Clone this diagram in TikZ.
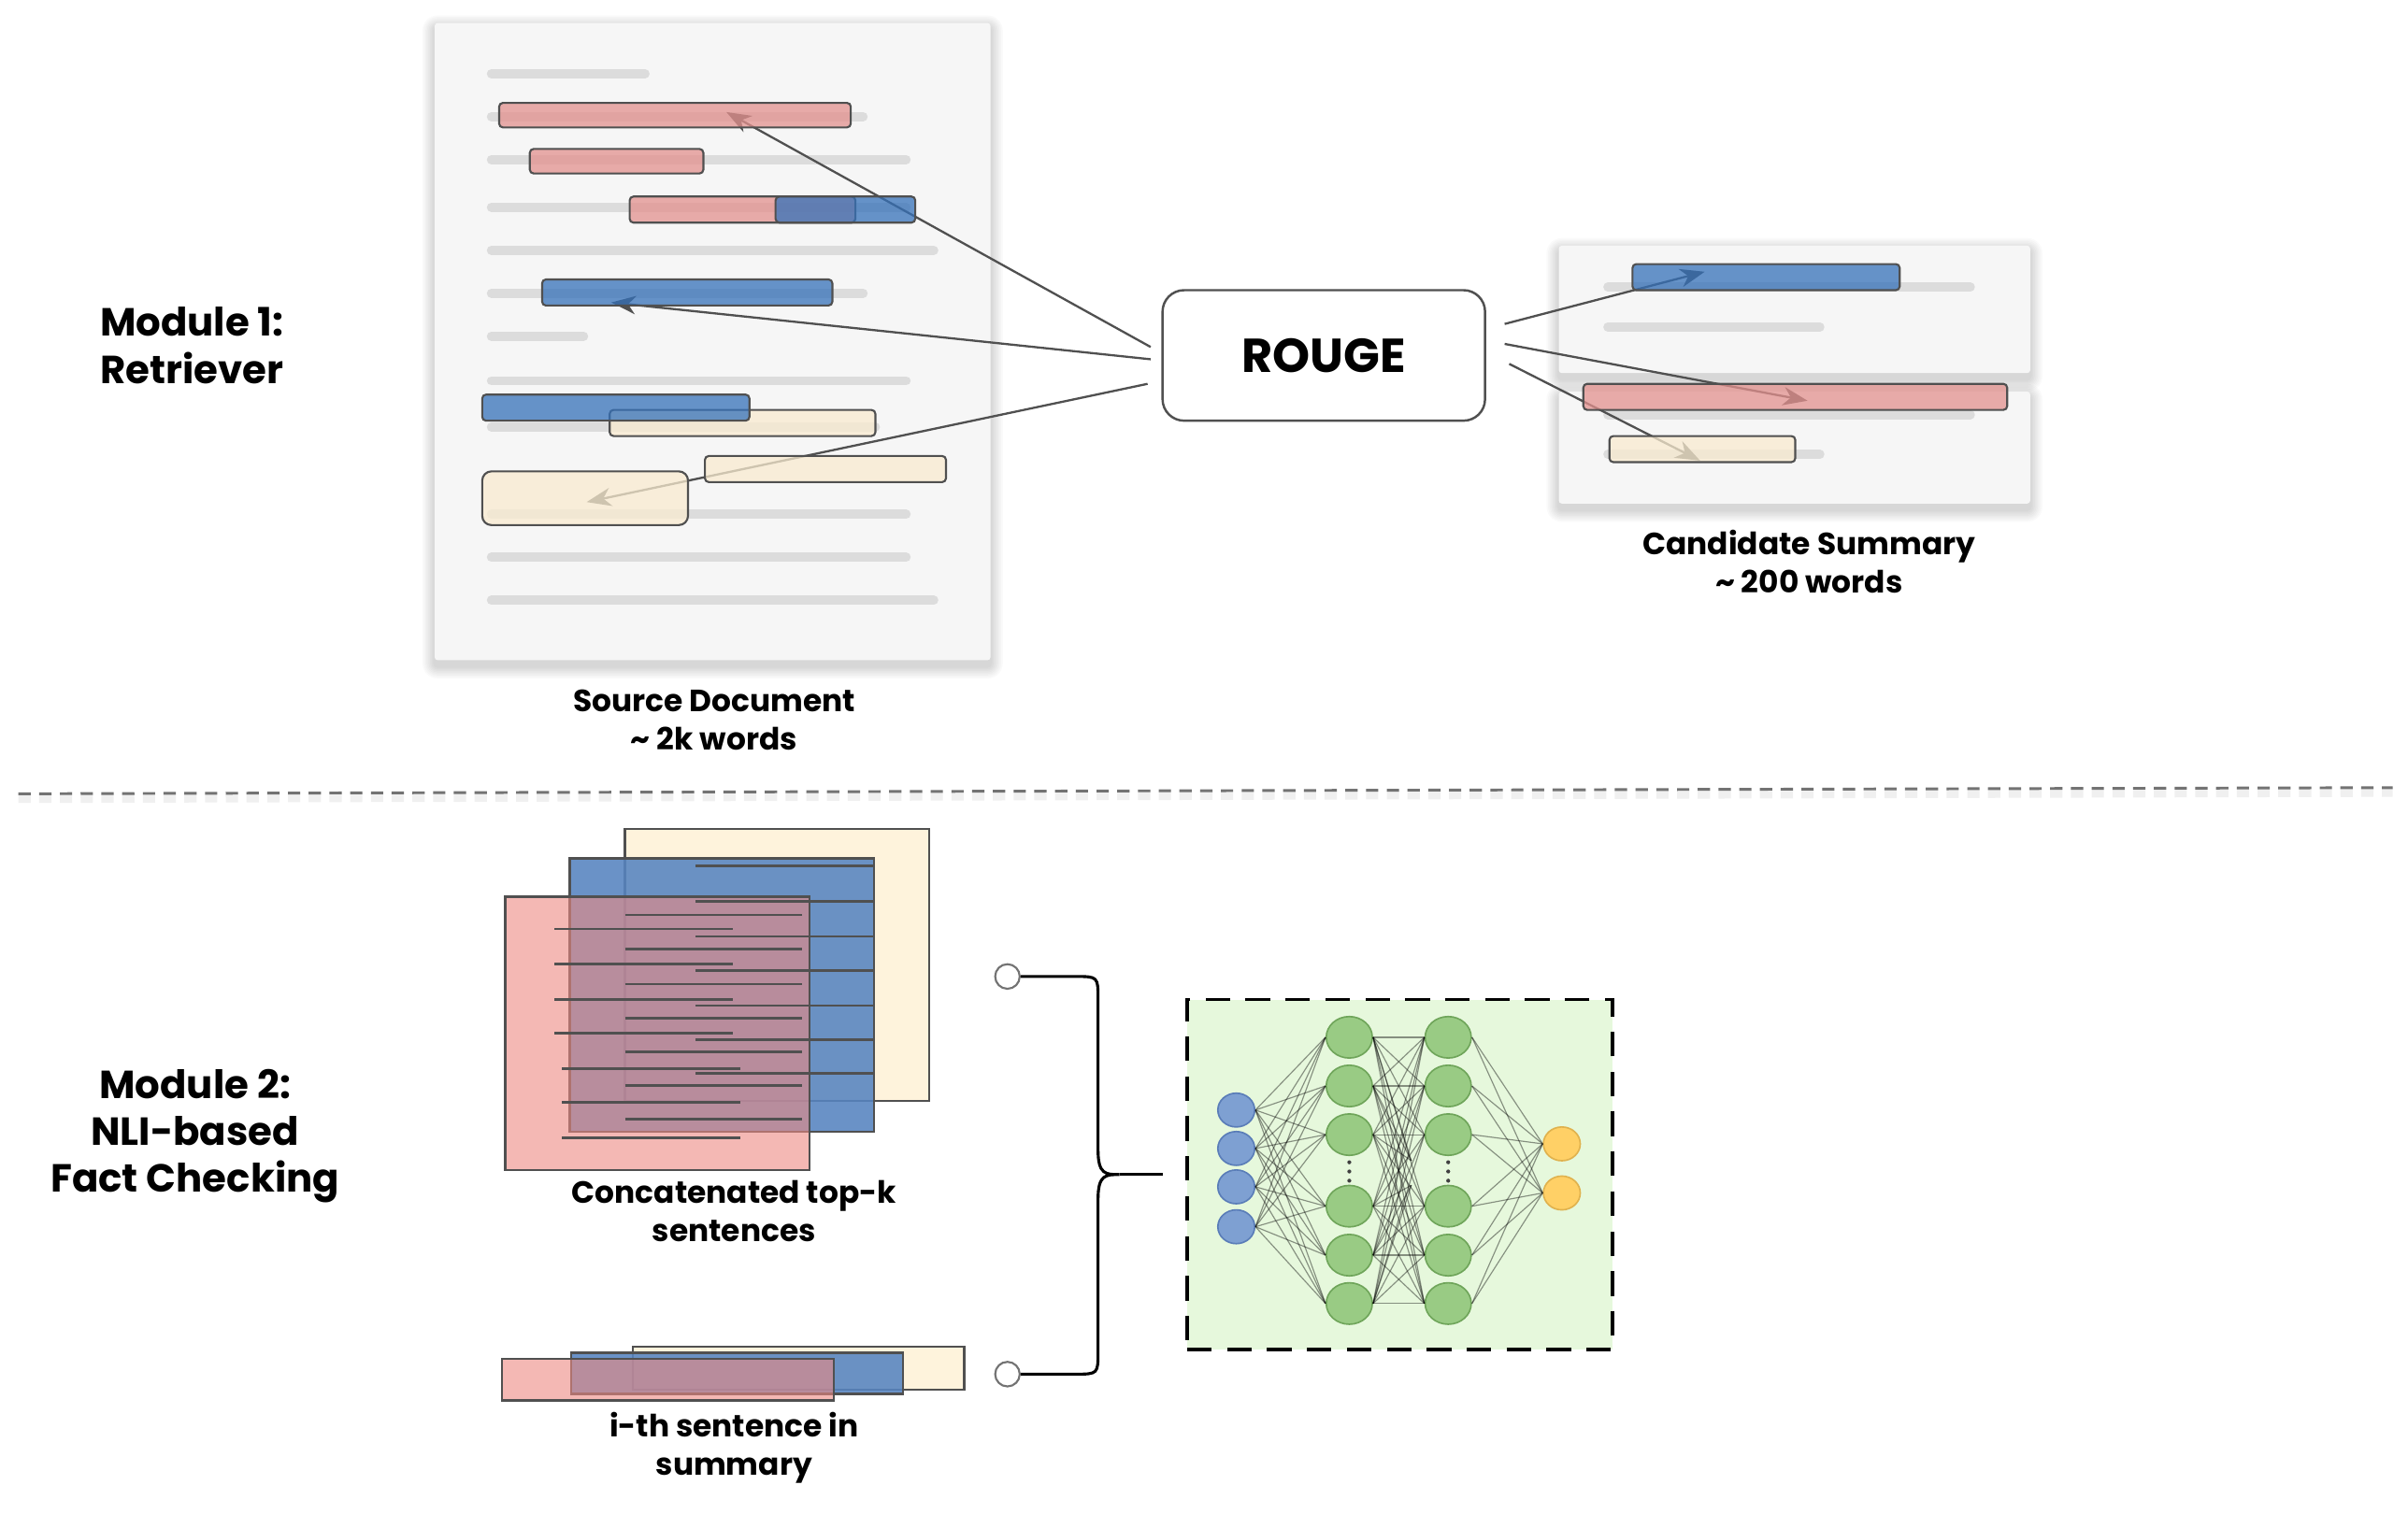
\documentclass[tikz,border=0pt]{standalone}
\usepackage{fontspec}
\setmainfont{Poppins}
\usetikzlibrary{arrows.meta,calc,shapes.geometric}
\definecolor{pagebg}{HTML}{F6F6F6}
\definecolor{txtline}{HTML}{DCDCDC}
\definecolor{cred}{RGB}{227,145,142}
\definecolor{cblue}{RGB}{53,113,185}
\definecolor{cbeige}{RGB}{249,235,208}
\definecolor{edge}{HTML}{505050}
\definecolor{kbeige}{HTML}{FEF3DC}
\definecolor{kblue}{RGB}{86,132,192}
\definecolor{kred}{RGB}{237,138,130}
\definecolor{nnbg}{HTML}{E6F8DC}
\definecolor{nblue}{HTML}{7EA0D2}
\definecolor{nbluedk}{HTML}{5A7DB8}
\definecolor{ngreen}{HTML}{99CB84}
\definecolor{ngreendk}{HTML}{6FA55A}
\definecolor{norange}{HTML}{FFD066}
\definecolor{norangedk}{HTML}{E0B24E}
\newcommand\softshadow[4]{%
  \foreach \i in {1,...,8}{%
    \fill[black,opacity=0.018,rounded corners=2+\i] ({#1-\i},{#2-\i+3}) rectangle ({#3+\i},{#4+\i+4});
  }%
}
\tikzset{
  page/.style={fill=pagebg, draw=none, inner sep=0pt, outer sep=0pt, rounded corners=2pt},
  tline/.style={txtline, line width=6pt, line cap=round},
  bar/.style={draw=edge, line width=1.3pt, fill opacity=0.75, inner sep=0pt, outer sep=0pt, rounded corners=2.5pt},
  arr/.style={draw=edge, line width=1.4pt, -{Stealth[length=16pt,width=12pt,inset=5pt]}},
  lab/.style={font=\bfseries\fontsize{20}{25}\selectfont, align=center, inner sep=0pt},
  modlab/.style={font=\bfseries\fontsize{25.5}{30.5}\selectfont, align=center, inner sep=0pt},
  stk/.style={draw=edge, line width=1.5pt, inner sep=0pt, outer sep=0pt},
  sline/.style={draw=edge, line width=1.6pt},
  inp/.style={ellipse, fill=nblue, draw=nbluedk, line width=1pt, minimum width=24pt, minimum height=22pt, inner sep=0pt},
  hid/.style={ellipse, fill=ngreen, draw=ngreendk, line width=1pt, minimum width=30pt, minimum height=27pt, inner sep=0pt},
  outn/.style={ellipse, fill=norange, draw=norangedk, line width=1pt, minimum width=24pt, minimum height=22pt, inner sep=0pt},
  nnedge/.style={draw=black, draw opacity=0.42, line width=0.7pt},
  port/.style={circle, draw=black!55, fill=white, line width=1.3pt, minimum size=16pt, inner sep=0pt},
}
\begin{document}
\begin{tikzpicture}[x=1pt,y=-1pt]
\useasboundingbox (0,0) rectangle (1568,995);
\fill[white] (0,0) rectangle (1568,995);

% ---------- Module labels ----------
\node[modlab] (mod1) at (125,225) {Module 1:\\Retriever};
\node[modlab] (mod2) at (127,740) {Module 2:\\NLI-based\\Fact Checking};

% ---------- Source document ----------
\softshadow{283}{15}{645}{430}
\node[page, minimum width=362pt, minimum height=415pt] (src) at (464,222.5) {};
\draw[tline] (320,48) -- (420,48);
\draw[tline] (320,76) -- (562,76);
\draw[tline] (320,104) -- (590,104);
\draw[tline] (320,135) -- (590,135);
\draw[tline] (320,163) -- (608,163);
\draw[tline] (320,191) -- (562,191);
\draw[tline] (320,219) -- (380,219);
\draw[tline] (320,248) -- (590,248);
\draw[tline] (320,278) -- (570,278);
\draw[tline] (320,335) -- (590,335);
\draw[tline] (320,363) -- (590,363);
\draw[tline] (320,391) -- (608,391);
\node[lab] (srclab) at (465,469) {Source Document\\\textasciitilde{} 2k words};

% ---------- Candidate summary ----------
\softshadow{1015}{160}{1322}{243}
\node[page, minimum width=307pt, minimum height=83pt] (sum1) at (1168.5,201.5) {};
\softshadow{1015}{255}{1322}{328}
\node[page, minimum width=307pt, minimum height=73pt] (sum2) at (1168.5,291.5) {};
\draw[tline] (1047,187) -- (1283,187);
\draw[tline] (1047,213) -- (1185,213);
\draw[tline] (1047,270) -- (1283,270);
\draw[tline] (1047,296) -- (1185,296);
\node[lab] (sumlab) at (1178,366) {Candidate Summary\\\textasciitilde{} 200 words};

% ---------- ROUGE ----------
\node[draw=edge, line width=1.5pt, fill=white, rounded corners=14pt, minimum width=210pt, minimum height=85pt, inner sep=0pt,
      font=\bfseries\fontsize{31}{31}\selectfont] (rouge) at (862,231.5) {ROUGE};

% arrow endpoints
\coordinate (a1s) at ($(rouge.west)+(-7,-5.5)$);
\coordinate (a2s) at ($(rouge.west)+(-7,2.5)$);
\coordinate (a3s) at ($(rouge.west)+(-9,18.5)$);
\coordinate (a1t) at (473,73);
\coordinate (a2t) at (398,197);
\coordinate (a3t) at (382,327);
\coordinate (b1s) at ($(rouge.east)+(12,-20.5)$);
\coordinate (b2s) at ($(rouge.east)+(12,-7.5)$);
\coordinate (b3s) at ($(rouge.east)+(15,5.5)$);
\coordinate (b1t) at (1110,177);
\coordinate (b2t) at (1177,261);
\coordinate (b3t) at (1107,300);

\draw[arr] (a1s) -- (a1t);
\draw[arr] (a2s) -- (a2t);
\draw[arr] (a3s) -- (a3t);
\draw[arr] (b1s) -- (b1t);
\draw[arr] (b2s) -- (b2t);
\draw[arr] (b3s) -- (b3t);

% source bars
\node[bar, fill=cred, minimum width=229pt, minimum height=16pt] (r1) at (439.5,75) {};
\node[bar, fill=cred, minimum width=113pt, minimum height=16pt] (r2) at (401.5,105) {};
\node[bar, fill=cred, minimum width=147pt, minimum height=17pt] (r3) at (483.5,136.5) {};
\node[bar, fill=cblue, minimum width=91pt, minimum height=17pt] (b3) at (550.5,136.5) {};
\node[bar, fill=cblue, minimum width=189pt, minimum height=17pt] (b4) at (447.5,190.5) {};
\node[bar, fill=cbeige, minimum width=173pt, minimum height=17pt] (y1) at (483.5,275.5) {};
\node[bar, fill=cblue, minimum width=174pt, minimum height=17pt] (b5) at (401,265.5) {};
\node[bar, fill=cbeige, minimum width=157pt, minimum height=17pt] (y2) at (537.5,305.5) {};
\node[bar, fill=cbeige, rounded corners=6pt, minimum width=134pt, minimum height=35pt] (y3) at (381,324.5) {};

% summary bars
\node[bar, fill=cblue, minimum width=174pt, minimum height=17pt] (sb) at (1150,180.5) {};
\node[bar, fill=cred, minimum width=276pt, minimum height=17pt] (sr) at (1169,258.5) {};
\node[bar, fill=cbeige, minimum width=121pt, minimum height=17pt] (sy) at (1108.5,292.5) {};

% ---------- divider ----------
\coordinate (dv1) at (12,517);
\coordinate (dv2) at (1558,513);
\draw[black, opacity=0.06, line width=6pt, dash pattern=on 8pt off 5.5pt] ($(dv1)+(0,3)$) -- ($(dv2)+(0,3)$);
\draw[black!55, line width=1.8pt, dash pattern=on 8pt off 5.5pt] (dv1) -- (dv2);

% ---------- Module 2: stacked sentences ----------
\node[stk, fill=kbeige, minimum width=198pt, minimum height=177pt] (kB) at (506,628.5) {};
\node[stk, fill=kblue, fill opacity=0.88, minimum width=198pt, minimum height=178pt] (kU) at (470,648) {};
\node[stk, fill=kred, fill opacity=0.6, minimum width=198pt, minimum height=178pt] (kR) at (428,673) {};
\foreach \y in {564,587,610,632,655,677,699} \draw[sline] (453,\y) -- (569,\y);
\foreach \y in {596,618,641,663,685,707,729} \draw[sline] (407,\y) -- (522,\y);
\foreach \y in {605,628,651,673} \draw[sline] (361,\y) -- (477,\y);
\foreach \y in {696,718,741} \draw[sline] (366,\y) -- (482,\y);
\node[lab] (catlab) at (478,789) {Concatenated top-k\\sentences};

\node[stk, fill=kbeige, minimum width=216pt, minimum height=28pt] (iB) at (520,891) {};
\node[stk, fill=kblue, fill opacity=0.88, minimum width=216pt, minimum height=27pt] (iU) at (480,894.5) {};
\node[stk, fill=kred, fill opacity=0.6, minimum width=216pt, minimum height=27pt] (iR) at (435,898.5) {};
\node[lab] (ilab) at (478,943) {i-th sentence in\\summary};

% ---------- brace ----------
\node[port] (c1) at (656,636) {};
\node[port] (c2) at (656,895) {};
\coordinate (cusp) at (729,765);
\coordinate (brtip) at (757,765);
\draw[black, line width=1.9pt]
  (c1.east) -- (700,636) .. controls (715,636) .. (715,651) -- (715,749)
  .. controls (715,765) and (720,765) .. (cusp)
  .. controls (720,765) and (715,765) .. (715,781) -- (715,880)
  .. controls (715,895) .. (700,895) -- (c2.east);
\draw[black, line width=1.9pt] (cusp) -- (brtip);

% ---------- neural network ----------
\node[fill=nnbg, draw=black, line width=2.3pt, dash pattern=on 16pt off 10pt,
      minimum width=277pt, minimum height=228pt, inner sep=0pt] (nn) at (911.5,765) {};
\coordinate (du) at (919,756);
\coordinate (dl) at (919,772);
\foreach \j/\y in {1/723,2/748,3/773,4/799} \node[inp] (i\j) at (805,\y) {};
\foreach \j/\y in {1/675.6,2/707.3,3/739,4/785.6,5/817.5,6/849} {
  \node[hid] (ha\j) at (878.6,\y) {};
  \node[hid] (hb\j) at (943,\y) {};
}
\foreach \j/\y in {1/745,2/777} \node[outn] (o\j) at (1017,\y) {};
\foreach \a in {1,...,4} \foreach \b in {1,...,6} \draw[nnedge] (i\a.east) -- (ha\b.west);
\foreach \a in {1,...,6} \foreach \b in {1,...,6} \draw[nnedge] (ha\a.east) -- (hb\b.west);
\foreach \a in {1,...,6} \foreach \b in {1,2} \draw[nnedge] (hb\a.east) -- (o\b.west);
\foreach \a in {1,2,3} \draw[nnedge] (ha\a.east) -- (du);
\foreach \a in {4,5,6} \draw[nnedge] (ha\a.east) -- (dl);
\foreach \x in {878.6,943} \foreach \y in {757,763,769} \fill[black!75] (\x,\y) circle (1.3);
\end{tikzpicture}
\end{document}
